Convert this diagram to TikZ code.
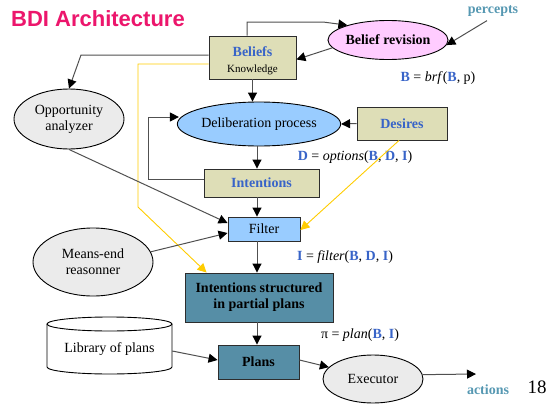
\documentclass[tikz,border=0pt]{standalone}
\usepackage{fontspec}
\setmainfont{Liberation Serif}
\newfontfamily\headfont{Liberation Sans}
\usetikzlibrary{arrows.meta,shapes.geometric,calc}
\definecolor{tanfill}{RGB}{222,222,183}
\definecolor{tealfill}{RGB}{86,142,166}
\definecolor{skyfill}{RGB}{153,204,255}
\definecolor{pinkfill}{RGB}{255,204,255}
\definecolor{greyfill}{RGB}{235,235,235}
\definecolor{bluetext}{RGB}{56,100,200}
\definecolor{tealtext}{RGB}{86,152,178}
\definecolor{titlered}{RGB}{236,22,108}
\definecolor{linegrey}{RGB}{80,80,80}
\definecolor{boxedge}{RGB}{45,45,45}
\definecolor{goldline}{RGB}{255,204,0}
\newcommand\txtsz{\fontsize{14}{16}\selectfont}
\newcommand\bv[1]{\textcolor{bluetext}{\textbf{#1}}}
\begin{document}
\begin{tikzpicture}[x=1pt,y=-1pt,
  every node/.style={font=\txtsz, inner sep=0pt, align=center},
  boxnode/.style={draw=boxedge, line width=0.9pt, rectangle},
  tanbox/.style={boxnode, fill=tanfill},
  tealbox/.style={boxnode, fill=tealfill, font=\txtsz\bfseries},
  skybox/.style={boxnode, fill=skyfill},
  oval/.style={draw=black, line width=0.9pt, ellipse},
  arr/.style={draw=linegrey, line width=1pt, -{Triangle[length=9pt,width=9pt,color=black]}},
  goldarr/.style={draw=goldline, line width=0.9pt, -{Triangle[length=9pt,width=9pt]}}
]
\useasboundingbox (0,0) rectangle (550,410);

% title
\node[font=\headfont\bfseries\fontsize{22}{24}\selectfont, text=titlered] (title) at (98,19) {BDI Architecture};

% belief side
\node[tanbox, minimum width=87pt, minimum height=43pt,
  label={[yshift=-3.5pt, align=center]center:{\bv{Beliefs}\\[0pt]{\fontsize{11}{12}\selectfont Knowledge}}}]
  (bel) at (252.5,57.5) {};
\node[oval, fill=pinkfill, minimum width=110pt, minimum height=39pt, font=\txtsz\bfseries] (brev) at (388,40) {Belief revision};
\node[font=\txtsz\bfseries, text=tealtext] (perc) at (493,11) {percepts};
\node (brf) at (438,78) {\bv{B} = \textit{brf}(\bv{B}, p)};

% deliberation stage
\node[oval, fill=greyfill, minimum width=110pt, minimum height=60pt] (opp) at (69,119) {Opportunity\\analyzer};
\node[oval, fill=skyfill, minimum width=148pt, minimum height=44pt] (delib) at (259,124) {Deliberation process};
\node[tanbox, minimum width=90pt, minimum height=33pt] (des) at (402,123.5) {\bv{Desires}};
\node (opts) at (355,157) {\bv{D} = \textit{options}(\bv{B}, \bv{D}, \bv{I})};

% filtering stage
\node[tanbox, minimum width=115pt, minimum height=28pt] (int) at (261.5,183) {\bv{Intentions}};
\node[skybox, minimum width=72pt, minimum height=24pt] (filt) at (264,229) {Filter};
\node[oval, fill=greyfill, minimum width=120pt, minimum height=68pt] (means) at (93,262) {Means-end\\reasonner};
\node (filtf) at (345,257) {\bv{I} = \textit{filter}(\bv{B}, \bv{D}, \bv{I})};

% planning stage
\node[tealbox, minimum width=148pt, minimum height=49pt] (isp) at (259,297.5) {Intentions structured\\in partial plans};
\node (planf) at (360,335) {π = \textit{plan}(\bv{B}, \bv{I})};

% library of plans: a drum
\draw[line width=0.9pt, fill=white] (47,324) -- (47,367)
  arc[start angle=180, end angle=0, x radius=62.5, y radius=7] -- (172,324);
\draw[line width=0.9pt, fill=white] (109.5,324) ellipse[x radius=62.5, y radius=7];
\node[minimum width=125pt, minimum height=50pt] (lib) at (109.5,349) {Library of plans};

\node[tealbox, minimum width=81pt, minimum height=34pt] (plans) at (258.5,362) {Plans};
\node[oval, fill=greyfill, minimum width=100pt, minimum height=48pt] (exec) at (373,379) {Executor};
\coordinate (act) at (476,374);
\node[font=\txtsz\bfseries, text=tealtext] (actions) at (488,390) {actions};
\node[font=\fontsize{19}{20}\selectfont] (pageno) at (537,387) {18};

% bend points
\coordinate (spine) at (257,0);
\coordinate (topbend) at (323,22);
\coordinate (oppbend) at (81,55);
\coordinate (goldbend) at (138,207);
\coordinate (loop) at (148,117);

% connectors
\draw[arr] ([xshift=-5.5pt]bel.north) |- (topbend) -- (brev.160);
\draw[arr] ([xshift=-6pt,yshift=-4pt]perc.south) -- (brev.-5);
\draw[arr] (brev.188) -- ([yshift=-2pt]bel.east);
\draw[arr] ([yshift=2.5pt]bel.west) -- (oppbend) -- (opp.north);
\draw[goldarr] ([yshift=-6.5pt]bel.west) -| (goldbend) -- ([xshift=22pt]isp.north west);
\draw[arr] (bel.south) -- (bel.south |- delib.north);
\draw[arr] (des.west) -- (delib.east);
\draw[arr] ([yshift=4pt]int.west) -| (loop) -- ([xshift=2pt]loop -| delib.west);
\draw[arr] (delib.south -| spine) -- (int.north -| spine);
\draw[arr] (int.south -| spine) -- (filt.north -| spine);
\draw[goldarr] ([xshift=-3pt]des.south) -- ([yshift=-1pt]filt.east);
\draw[arr] (opp.south) -- ([yshift=6pt]filt.west);
\draw[arr] (means.10) -- ([yshift=-4pt]filt.west);
\draw[arr] (filt.south -| spine) -- (isp.north -| spine);
\draw[arr] (isp.south -| spine) -- (plans.north -| spine);
\draw[arr] ([yshift=-2pt]lib.east) -- ([yshift=2pt]plans.west);
\draw[arr] ([yshift=2pt]plans.east) -- (exec.165);
\draw[arr] (exec.5) -- (act);
\end{tikzpicture}
\end{document}
